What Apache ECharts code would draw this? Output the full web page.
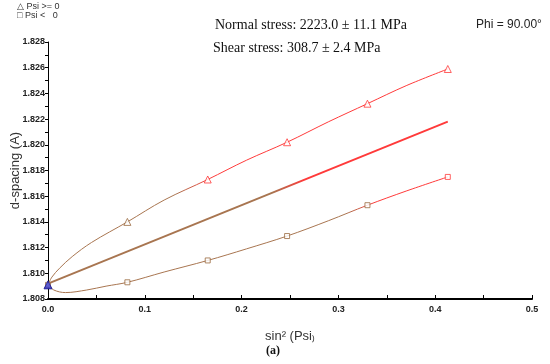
<!DOCTYPE html>
<html><head><meta charset="utf-8">
<script src="https://cdn.jsdelivr.net/npm/echarts@6/dist/echarts.min.js"></script>
<style>html,body{margin:0;padding:0;background:#fff}#c{width:550px;height:364px}</style>
</head><body><div id="c"></div>
<script>
// measured points (sin^2 psi, d-spacing)
const posX = [0, 0.082, 0.165, 0.247, 0.330, 0.413];
const posD = [1.8091, 1.8140, 1.8173, 1.8202, 1.8232, 1.8259];
const negX = [0, 0.082, 0.165, 0.247, 0.330, 0.413];
const negD = [1.8091, 1.8093, 1.8110, 1.8129, 1.8153, 1.8175];
// curves
const upperCurveX = [0, 0.004, 0.012, 0.025, 0.045, 0.082, 0.12, 0.165, 0.205, 0.247, 0.29, 0.330, 0.37, 0.413];
const upperCurveD = [1.8091, 1.8097, 1.8104, 1.8113, 1.8124, 1.8140, 1.8157, 1.8173, 1.8188, 1.8202, 1.8218, 1.8232, 1.8246, 1.8259];
const lowerCurveX = [0, 0.006, 0.018, 0.04, 0.06, 0.082, 0.12, 0.165, 0.205, 0.247, 0.29, 0.330, 0.37, 0.413];
const lowerCurveD = [1.8091, 1.8087, 1.8085, 1.8087, 1.8090, 1.8093, 1.8101, 1.8110, 1.8119, 1.8129, 1.8141, 1.8153, 1.8164, 1.8175];
const fitX = [0, 0.413];
const fitD = [1.8092, 1.8218];
const xTicks = [0, 0.1, 0.2, 0.3, 0.4, 0.5];
const yTicks = [1.808, 1.810, 1.812, 1.814, 1.816, 1.818, 1.820, 1.822, 1.824, 1.826, 1.828];

const zip = (a, b) => a.map((v, i) => [v, b[i]]);
const brown = '#a87550', red = '#ff3a3a', blue = '#2a2aa8';
function grad(s1, s2) {
  return {type: 'linear', x: 0, y: 0, x2: 1, y2: 0,
    colorStops: [{offset: 0, color: brown}, {offset: s1, color: brown}, {offset: s2, color: red}, {offset: 1, color: red}]};
}
const styled = (pts, colorFor) => pts.map((p, i) => ({value: p, itemStyle: {color: '#fff', borderWidth: 1, borderColor: colorFor(i)}}));
const chart = echarts.init(document.getElementById('c'));
const axisLabel = {fontFamily: 'Arial, Liberation Sans', fontWeight: 'bold', fontSize: 9, color: '#222'};
chart.setOption({
  animation: false,
  grid: {left: 48, right: 18, top: 42, bottom: 65, containLabel: false, outerBoundsMode: 'none'},
  xAxis: {
    type: 'value', min: xTicks[0], max: xTicks[xTicks.length - 1], interval: 0.1,
    name: 'sin² (Psi₎', nameLocation: 'middle', nameGap: 31,
    nameTextStyle: {fontFamily: 'Arial, Liberation Sans', fontSize: 13, color: '#333'},
    axisLine: {lineStyle: {color: '#000', width: 2}},
    axisTick: {inside: true, length: 4, lineStyle: {color: '#000'}},
    minorTick: {show: true, splitNumber: 2, length: 4, lineStyle: {color: '#000'}},
    splitLine: {show: false},
    axisLabel: Object.assign({formatter: v => v.toFixed(1), margin: 6}, axisLabel)
  },
  yAxis: {
    type: 'value', min: yTicks[0], max: yTicks[yTicks.length - 1], interval: 0.002,
    name: 'd-spacing (A)', nameLocation: 'middle', nameGap: 26, nameRotate: 90, nameMoveOverlap: false,
    nameTextStyle: {fontFamily: 'Arial, Liberation Sans', fontSize: 13, color: '#333'},
    axisLine: {show: true, lineStyle: {color: '#000', width: 1}},
    axisTick: {show: true, length: 3, lineStyle: {color: '#000'}},
    minorTick: {show: true, splitNumber: 2, length: 3, lineStyle: {color: '#000'}},
    splitLine: {show: false},
    axisLabel: Object.assign({formatter: v => v.toFixed(3), margin: 3}, axisLabel)
  },
  series: [
    {type: 'line', data: zip(upperCurveX, upperCurveD), smooth: 0.35, symbol: 'none', silent: true,
      lineStyle: {width: 1, color: grad(0.32, 0.42)}},
    {type: 'line', data: zip(lowerCurveX, lowerCurveD), smooth: 0.35, symbol: 'none', silent: true,
      lineStyle: {width: 1, color: grad(0.74, 0.82)}},
    {type: 'line', data: zip(fitX, fitD), symbol: 'none', silent: true,
      lineStyle: {width: 2, color: grad(0.56, 0.64)}},
    {type: 'scatter', data: styled(zip(posX, posD), i => i === 0 ? blue : (i === 1 ? '#9a6a40' : red)),
      symbol: 'triangle', symbolSize: 7, silent: true, z: 5},
    {type: 'scatter', data: styled(zip(negX, negD), i => i === 5 ? red : '#9a6a40'),
      symbol: 'rect', symbolSize: 5, silent: true, z: 5},
    {type: 'scatter', data: [[posX[0], posD[0]]], symbol: 'triangle', symbolSize: 8, silent: true, z: 6,
      itemStyle: {color: '#3434c4', borderColor: '#202090', borderWidth: 1}}
  ],
  graphic: [
    {type: 'text', left: 17, top: 2, style: {text: '△ Psi >= 0', fontFamily: 'Arial, Liberation Sans', fontSize: 9, fill: '#333'}},
    {type: 'text', left: 17, top: 11, style: {text: '□ Psi <   0', fontFamily: 'Arial, Liberation Sans', fontSize: 9, fill: '#333'}},
    {type: 'text', left: 215, top: 18, style: {text: 'Normal stress: 2223.0 ± 11.1 MPa', fontFamily: 'Liberation Serif, Times New Roman', fontSize: 14, fill: '#111'}},
    {type: 'text', left: 213, top: 41, style: {text: 'Shear stress: 308.7 ± 2.4 MPa', fontFamily: 'Liberation Serif, Times New Roman', fontSize: 14, fill: '#111'}},
    {type: 'text', left: 476, top: 19, style: {text: 'Phi = 90.00°', fontFamily: 'Arial, Liberation Sans', fontSize: 12, fill: '#222'}},
    {type: 'text', left: 266, top: 345, style: {text: '(a)', fontFamily: 'Liberation Serif, Times New Roman', fontSize: 12, fontWeight: 'bold', fill: '#111'}}
  ]
});
</script></body></html>
